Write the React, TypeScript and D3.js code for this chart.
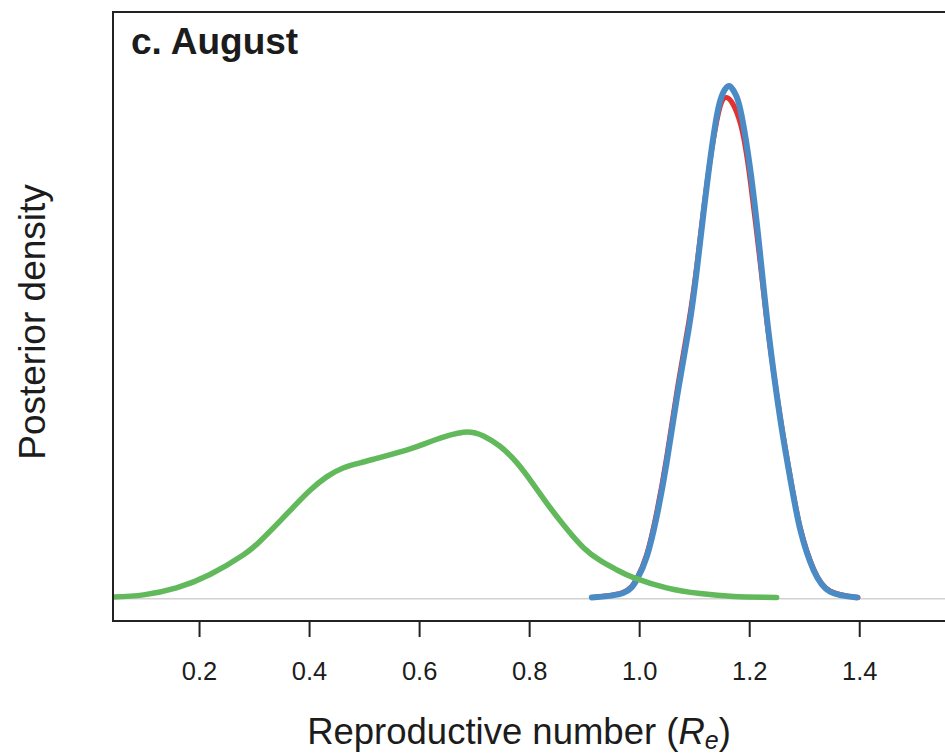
import React from "react";
import * as d3 from "d3";

// Posterior density curves (Re value, density)
const greenX = [0.043, 0.098, 0.158, 0.219, 0.28, 0.31, 0.34, 0.371, 0.401, 0.431, 0.461, 0.492, 0.522, 0.583, 0.625, 0.68, 0.716, 0.746, 0.777, 0.807, 0.837, 0.868, 0.898, 0.928, 0.959, 0.989, 1.049, 1.11, 1.171, 1.249];
const greenY = [0.027, 0.06, 0.17, 0.38, 0.69, 0.9, 1.16, 1.44, 1.7, 1.91, 2.05, 2.13, 2.2, 2.35, 2.48, 2.61, 2.55, 2.39, 2.13, 1.79, 1.43, 1.09, 0.8, 0.6, 0.45, 0.33, 0.17, 0.08, 0.035, 0.02];

const redX = [0.913, 0.97, 0.995, 1.013, 1.031, 1.049, 1.068, 1.089, 1.104, 1.122, 1.14, 1.158, 1.183, 1.201, 1.219, 1.234, 1.255, 1.274, 1.292, 1.316, 1.346, 1.397];
const redY = [0.02, 0.1, 0.32, 0.7, 1.36, 2.22, 3.27, 4.33, 5.24, 6.5, 7.48, 7.86, 7.45, 6.55, 5.27, 4.15, 2.88, 1.9, 1.11, 0.47, 0.12, 0.02];

const blueX = [0.913, 0.97, 0.995, 1.013, 1.031, 1.049, 1.068, 1.089, 1.104, 1.122, 1.14, 1.152, 1.163, 1.173, 1.183, 1.201, 1.219, 1.234, 1.255, 1.274, 1.292, 1.316, 1.346, 1.395];
const blueY = [0.02, 0.09, 0.3, 0.66, 1.29, 2.13, 3.17, 4.22, 5.16, 6.47, 7.56, 7.94, 8.04, 7.93, 7.67, 6.73, 5.4, 4.2, 2.85, 1.87, 1.08, 0.45, 0.11, 0.02];

const xTicks = [0.2, 0.4, 0.6, 0.8, 1.0, 1.2, 1.4];

const W = 945;
const H = 753;

export default function App() {
  const x = d3.scaleLinear().domain([0.0427, 1.555]).range([113, 945]);
  const y = d3.scaleLinear().domain([-0.35, 9.2]).range([621, 12]);
  const line = d3
    .line<[number, number]>()
    .x((d) => x(d[0]))
    .y((d) => y(d[1]))
    .curve(d3.curveNatural);
  const zip = (a: number[], b: number[]) => a.map((v, i) => [v, b[i]] as [number, number]);

  const font = "'Liberation Sans', Arial, Helvetica, sans-serif";
  const textColor = "#1c1c1c";

  return (
    <svg
      width={W}
      height={H}
      style={{ position: "absolute", left: 0, top: 0, background: "#fff" }}
      fontFamily={font}
    >
      <defs>
        <clipPath id="plotclip">
          <rect x={113} y={12} width={W - 113} height={609} />
        </clipPath>
      </defs>
      <line x1={113} x2={W} y1={y(0)} y2={y(0)} stroke="#d2d2d2" strokeWidth={1.5} />
      <g clipPath="url(#plotclip)" fill="none" strokeLinecap="round" strokeLinejoin="round">
        <path d={line(zip(redX, redY)) || ""} stroke="#e4302f" strokeWidth={5} />
        <path d={line(zip(blueX, blueY)) || ""} stroke="#4b8bc5" strokeWidth={6} />
        <path d={line(zip(greenX, greenY)) || ""} stroke="#62b95c" strokeWidth={5.5} />
      </g>
      <rect x={113} y={12} width={W + 20 - 113} height={609} fill="none" stroke="#222" strokeWidth={2} />
      {xTicks.map((t) => (
        <g key={t}>
          <line x1={x(t)} x2={x(t)} y1={621} y2={637} stroke="#222" strokeWidth={2} />
          <text x={x(t)} y={680} textAnchor="middle" fontSize={25.5} fill={textColor}>
            {t.toFixed(1)}
          </text>
        </g>
      ))}
      <text x={131} y={54} fontSize={37} fontWeight="bold" fill={textColor}>
        c. August
      </text>
      <text x={519} y={744} textAnchor="middle" fontSize={36.5} fill={textColor}>
        Reproductive number (
        <tspan fontStyle="italic">R</tspan>
        <tspan fontStyle="italic" fontSize={25} dy={5}>e</tspan>
        <tspan dy={-5}>)</tspan>
      </text>
      <text
        transform={`translate(45,322) rotate(-90)`}
        textAnchor="middle"
        fontSize={37}
        fill={textColor}
      >
        Posterior density
      </text>
    </svg>
  );
}
